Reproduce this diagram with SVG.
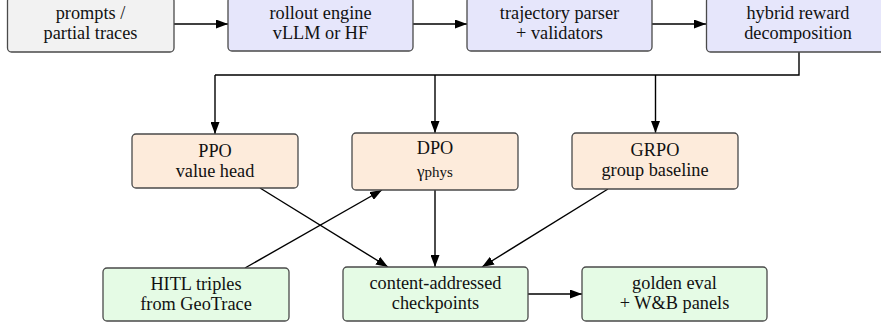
<svg xmlns="http://www.w3.org/2000/svg" width="881" height="327" viewBox="0 0 881 327">
  <style>
    .box { stroke: #4a4a4a; stroke-width: 1.3; }
    .src { fill: #f2f2f2; }
    .stage { fill: #e6e6fb; }
    .algo { fill: #fdebdb; }
    .out { fill: #e5fbe5; }
    text { font-size: 18.3px; fill: #111; text-anchor: middle; }
    .edge { fill: none; stroke: #000; stroke-width: 1.4; }
  </style>
  <defs>
    <marker id="arrow" viewBox="0 0 12 9" refX="12" refY="4.5" markerWidth="12" markerHeight="9" markerUnits="userSpaceOnUse" orient="auto">
      <path d="M0,0 L12,4.5 L0,9 z" fill="#000"/>
    </marker>
  </defs>

  <g id="connectors">
    <line class="edge" x1="174" y1="24" x2="228" y2="24" marker-end="url(#arrow)"/>
    <line class="edge" x1="413" y1="24" x2="467" y2="24" marker-end="url(#arrow)"/>
    <line class="edge" x1="652" y1="24" x2="706" y2="24" marker-end="url(#arrow)"/>
    <path class="edge" d="M799,52 V75 H215"/>
    <line class="edge" x1="215" y1="75" x2="215" y2="134" marker-end="url(#arrow)"/>
    <line class="edge" x1="435" y1="75" x2="435" y2="133" marker-end="url(#arrow)"/>
    <line class="edge" x1="655.5" y1="75" x2="655.5" y2="133" marker-end="url(#arrow)"/>
    <line class="edge" x1="260" y1="188" x2="388" y2="267" marker-end="url(#arrow)"/>
    <line class="edge" x1="245" y1="268" x2="382" y2="190" marker-end="url(#arrow)"/>
    <line class="edge" x1="435" y1="190" x2="435" y2="267" marker-end="url(#arrow)"/>
    <line class="edge" x1="608" y1="189" x2="482" y2="267" marker-end="url(#arrow)"/>
    <line class="edge" x1="528" y1="294" x2="582" y2="294" marker-end="url(#arrow)"/>
  </g>

  <g font-family="'Liberation Serif', Tinos, 'Times New Roman', 'DejaVu Serif', serif">
  <g id="prompts">
    <rect class="box src" x="7.5" y="-3" width="166.5" height="55" rx="4"/>
    <text x="90.5" y="18.5">prompts /</text>
    <text x="90.5" y="38.5">partial traces</text>
  </g>
  <g id="rollout">
    <rect class="box stage" x="228" y="-3" width="185" height="54" rx="4"/>
    <text x="320.5" y="18.5">rollout engine</text>
    <text x="320.5" y="38.5">vLLM or HF</text>
  </g>
  <g id="parser">
    <rect class="box stage" x="467" y="-3" width="185" height="54" rx="4"/>
    <text x="559.5" y="18.5">trajectory parser</text>
    <text x="559.5" y="38.5">+ validators</text>
  </g>
  <g id="reward">
    <rect class="box stage" x="706.5" y="-3" width="184" height="55" rx="4"/>
    <text x="798" y="18.5">hybrid reward</text>
    <text x="798" y="38.5">decomposition</text>
  </g>

  <g id="ppo">
    <rect class="box algo" x="132" y="134" width="166" height="54" rx="4"/>
    <text x="215" y="157">PPO</text>
    <text x="215" y="177">value head</text>
  </g>
  <g id="dpo">
    <rect class="box algo" x="352" y="133" width="166" height="57" rx="4"/>
    <text x="435" y="153.5">DPO</text>
    <text x="435" y="177"><tspan font-size="17">γ</tspan><tspan font-size="15">phys</tspan></text>
  </g>
  <g id="grpo">
    <rect class="box algo" x="572" y="133" width="166" height="56" rx="4"/>
    <text x="655" y="155.5">GRPO</text>
    <text x="655" y="175.5">group baseline</text>
  </g>

  <g id="hitl">
    <rect class="box out" x="103" y="268" width="186" height="53" rx="4"/>
    <text x="196" y="290">HITL triples</text>
    <text x="196" y="310">from GeoTrace</text>
  </g>
  <g id="checkpoints">
    <rect class="box out" x="343" y="267" width="185" height="54" rx="4"/>
    <text x="435.5" y="288.5">content-addressed</text>
    <text x="435.5" y="308.5">checkpoints</text>
  </g>
  <g id="golden">
    <rect class="box out" x="582" y="267" width="185" height="54" rx="4"/>
    <text x="674.5" y="288.5">golden eval</text>
    <text x="674.5" y="308.5">+ W&amp;B panels</text>
  </g>
  </g>
</svg>
